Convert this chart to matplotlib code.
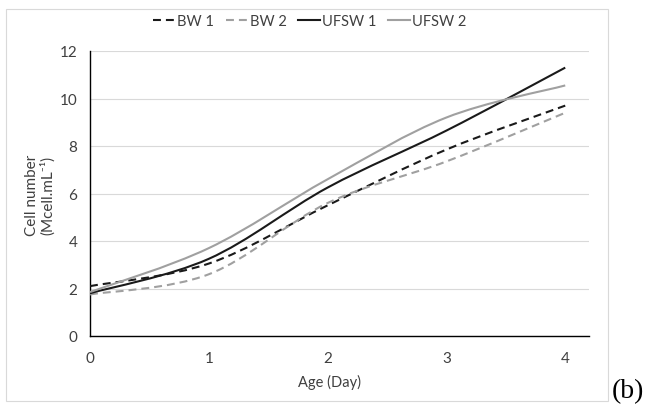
import matplotlib
matplotlib.use("Agg")
import matplotlib.pyplot as plt
from matplotlib.path import Path
from matplotlib.patches import PathPatch, Rectangle
from matplotlib.lines import Line2D

plt.rcParams['font.family'] = ['Lato', 'DejaVu Sans']

days = [0, 1, 2, 3, 4]
bw1 = [2.1, 3.05, 5.5, 7.85, 9.7]
bw2 = [1.75, 2.6, 5.6, 7.35, 9.4]
ufsw1 = [1.8, 3.25, 6.25, 8.65, 11.3]
ufsw2 = [1.85, 3.7, 6.6, 9.2, 10.55]
labels = ['BW 1', 'BW 2', 'UFSW 1', 'UFSW 2']


def smooth_path(x, y):
    # excel style smoothed line: cubic bezier segments between the points
    n = len(x)
    verts = [(x[0], y[0])]
    codes = [Path.MOVETO]
    for i in range(n - 1):
        xp, yp = (x[i - 1], y[i - 1]) if i > 0 else (x[i], y[i])
        xn, yn = (x[i + 2], y[i + 2]) if i + 2 < n else (x[i + 1], y[i + 1])
        c1 = (x[i] + (x[i + 1] - xp) / 6, y[i] + (y[i + 1] - yp) / 6)
        c2 = (x[i + 1] - (xn - x[i]) / 6, y[i + 1] - (yn - y[i]) / 6)
        verts += [c1, c2, (x[i + 1], y[i + 1])]
        codes += [Path.CURVE4] * 3
    return Path(verts, codes)


fig = plt.figure(figsize=(6.49, 4.06), dpi=100)
fig.patches.append(Rectangle((6 / 649, 4 / 406), 602 / 649, 392 / 406,
                             transform=fig.transFigure, fill=False,
                             edgecolor='#d9d9d9', lw=0.8))
ax = fig.add_axes([90 / 649, 1 - 337 / 406, 499 / 649, 285 / 406])

styles = [
    dict(color='#1a1a1a', ls=(0, (3.8, 2.4))),
    dict(color='#a0a0a0', ls=(0, (3.8, 2.4))),
    dict(color='#1a1a1a', ls='-'),
    dict(color='#a0a0a0', ls='-'),
]
handles = []
for ys, st, lab in zip([bw1, bw2, ufsw1, ufsw2], styles, labels):
    ax.add_patch(PathPatch(smooth_path(days, ys), fill=False, lw=1.5,
                           edgecolor=st['color'], linestyle=st['ls'],
                           capstyle='butt', zorder=3))
    handles.append(Line2D([], [], color=st['color'], ls=st['ls'], lw=1.5, label=lab))

ax.set_xlim(0, 4.2)
ax.set_ylim(0, 12)
ax.set_xticks(days)
ax.set_yticks(range(0, 13, 2))
ax.grid(axis='y', color='#d9d9d9', lw=0.8)
ax.set_axisbelow(True)
for s in ['top', 'right']:
    ax.spines[s].set_visible(False)
for s in ['left', 'bottom']:
    ax.spines[s].set_color('black')
    ax.spines[s].set_linewidth(1.0)
ax.tick_params(length=0, labelsize=11, labelcolor='#404040')
ax.tick_params(axis='x', pad=11)
ax.tick_params(axis='y', pad=9)

fig.text(330 / 649, 1 - 382 / 406, 'Age (Day)', ha='center', va='center',
         fontsize=10.5, color='#404040')
fig.text(40 / 649, 1 - 195 / 406, 'Cell number\n(Mcell.mL\u207b\u00b9)', rotation=90,
         ha='center', va='center', fontsize=11, color='#404040',
         multialignment='center', linespacing=1.1)

fig.legend(handles=handles, loc='center', bbox_to_anchor=(310 / 649, 1 - 22 / 406),
           ncol=4, frameon=False, fontsize=10.5, handlelength=1.5,
           handletextpad=0.15, columnspacing=0.8, labelcolor='#404040')

fig.text(628 / 649, 1 - 392 / 406, '(b)', ha='center', va='center',
         fontsize=20, family='Liberation Serif')

fig.savefig('out.png', dpi=100)
